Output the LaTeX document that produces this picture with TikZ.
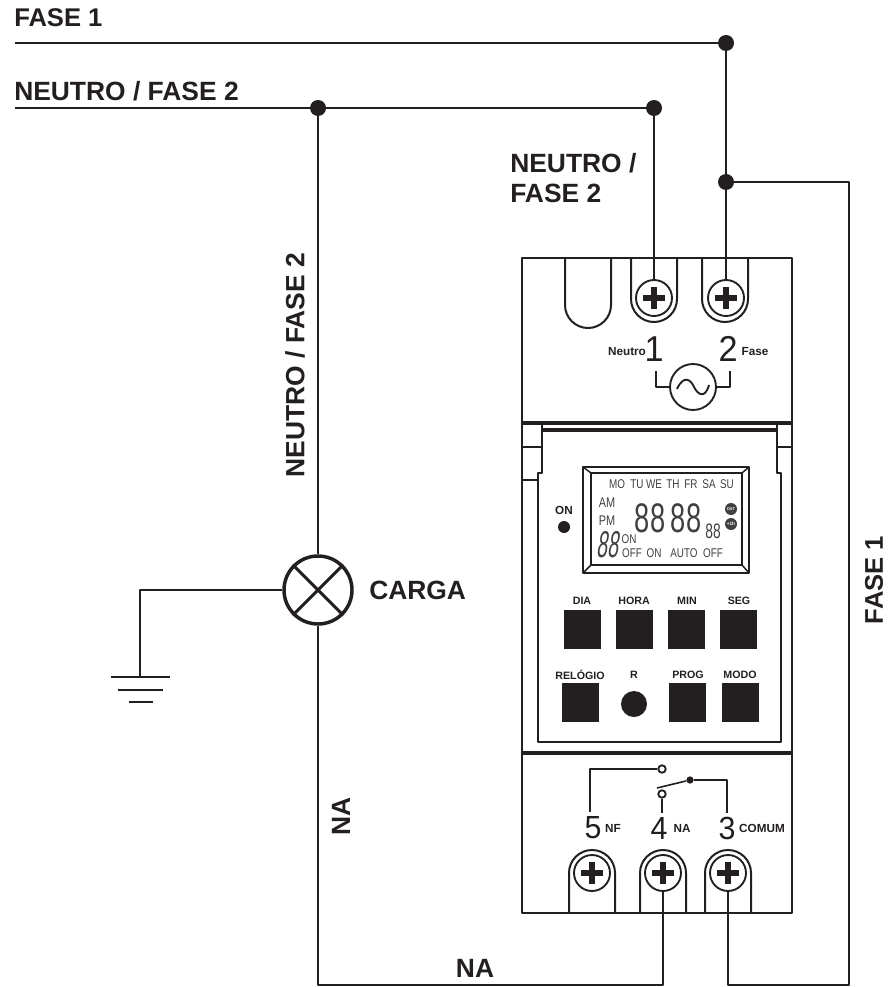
\documentclass[tikz,border=0pt]{standalone}
\usepackage{fontspec}
\setmainfont{Liberation Sans}
\newfontfamily\lcdfont[FakeStretch=0.78]{Liberation Sans}
\newfontfamily\lcddigit[FakeStretch=0.66]{Liberation Sans}
\newfontfamily\segdigit[FakeStretch=0.52,FakeSlant=0.16]{Liberation Sans}
\newfontfamily\lightdigit[FakeStretch=0.95]{Liberation Sans}
\definecolor{inkblack}{HTML}{231F20}
\definecolor{lcdgrey}{HTML}{404040}
\tikzset{
	wire/.style={inkblack, line width=1.5pt},
	outline/.style={inkblack, line width=1.9pt},
	joint/.style={circle, fill=inkblack, inner sep=0pt, minimum size=12pt},
	screwhead/.style={circle, draw=inkblack, line width=1.4pt, fill=white, inner sep=0pt, minimum size=27pt},
	bigtext/.style={font=\bfseries\fontsize{19.8}{22}\selectfont, text=inkblack, inner sep=0pt},
	fasetext/.style={font=\bfseries\fontsize{19.2}{22}\selectfont, text=inkblack, inner sep=0pt},
	smalltext/.style={font=\bfseries\fontsize{8}{9}\selectfont, text=inkblack, inner sep=0pt},
	termdigit/.style={font=\lightdigit\fontsize{27}{27}\selectfont, text=inkblack, inner sep=0pt},
	relaydigit/.style={font=\lightdigit\fontsize{24}{24}\selectfont, text=inkblack, inner sep=0pt},
	lcdtext/.style={font=\lcdfont\fontsize{9.5}{10}\selectfont, text=lcdgrey, inner sep=0pt},
	lcdbig/.style={font=\lcddigit\fontsize{31}{31}\selectfont, text=lcdgrey, inner sep=0pt},
	pushbutton/.style={fill=inkblack}
}
\newcommand{\plusmark}[1]{
	\draw[inkblack, line width=3.9pt] ([xshift=-8.2pt]#1.center) -- ([xshift=8.2pt]#1.center);
	\draw[inkblack, line width=3.9pt] ([yshift=-8.2pt]#1.center) -- ([yshift=8.2pt]#1.center);
}
\begin{document}
\begin{tikzpicture}[
		x=0.75pt,
		y=-0.75pt,
		line join=round
	]
	\useasboundingbox (0,0) rectangle (888,987);

	% Device body
	\draw[outline] (522,258) rectangle (792,913);
	\draw[outline, line width=2.4pt] (522,423) -- (792,423);
	\draw[outline, line width=2.4pt] (542,430) -- (776,430);
	\draw[outline] (542,423) -- (542,473) -- (538,473) -- (538,742) -- (781,742) -- (781,473) -- (777,473) -- (777,423);
	\draw[outline] (522,447) -- (542,447);
	\draw[outline] (522,480) -- (538,480);
	\draw[outline] (777,447) -- (792,447);
	\draw[outline, line width=2.4pt] (522,753) -- (792,753);

	% Top slots
	\draw[outline, line width=1.5pt] (565,258) -- (565,305) arc[start angle=180, end angle=0, radius=23] -- (611,258);
	\draw[outline, line width=1.5pt] (631,258) -- (631,299) arc[start angle=180, end angle=0, radius=23] -- (677,258);
	\draw[outline, line width=1.5pt] (702,258) -- (702,299) arc[start angle=180, end angle=0, radius=23] -- (748,258);

	% Bottom hoods
	\draw[outline, line width=1.5pt] (569,913) -- (569,873) arc[start angle=180, end angle=360, radius=23] -- (615,913);
	\draw[outline, line width=1.5pt] (640,913) -- (640,873) arc[start angle=180, end angle=360, radius=23] -- (686,913);
	\draw[outline, line width=1.5pt] (705,913) -- (705,873) arc[start angle=180, end angle=360, radius=23] -- (751,913);

	% Screws
	\node[screwhead] (screwN) at (654,298) {};
	\node[screwhead] (screwF) at (726,298) {};
	\node[screwhead] (screwNF) at (592,873) {};
	\node[screwhead] (screwNA) at (663,873) {};
	\node[screwhead] (screwC) at (728,873) {};
	\plusmark{screwN}
	\plusmark{screwF}
	\plusmark{screwNF}
	\plusmark{screwNA}
	\plusmark{screwC}

	% Supply lines
	\coordinate (f1start) at (15,43);
	\coordinate (n1start) at (15,108);
	\node[joint] (f1top) at (726,43) {};
	\node[joint] (f1mid) at (726,182) {};
	\node[joint] (n1lamp) at (318,108) {};
	\node[joint] (n1top) at (654,108) {};
	\draw[wire] (f1start) -- (f1top);
	\draw[wire] (f1top) -- (f1mid);
	\draw[wire] (f1mid) -- (screwF);
	\draw[wire] (n1start) -- (n1lamp);
	\draw[wire] (n1lamp) -- (n1top);
	\draw[wire] (n1top) -- (screwN);

	% Lamp and earth
	\node[circle, draw=inkblack, line width=2.6pt, inner sep=0pt, minimum size=51pt] (lamp) at (318,590) {};
	\draw[inkblack, line width=2.2pt] (lamp.45) -- (lamp.225);
	\draw[inkblack, line width=2.2pt] (lamp.135) -- (lamp.315);
	\coordinate (earth) at (140,677);
	\draw[wire] (n1lamp) -- (lamp);
	\draw[wire] (lamp) -| (earth);
	\draw[wire] (111,677) -- (170,677);
	\draw[wire] (118,690) -- (163,690);
	\draw[wire] (129,702) -- (153,702);

	% Return wires
	\draw[wire] (lamp) |- (663,985) -- (screwNA);
	\draw[wire] (f1mid) -| (849,985) -| (screwC);

	% Labels on wires
	\node[fasetext, anchor=west] (lblfase) at (14,18) {FASE 1};
	\node[bigtext, anchor=west] (lblneutro) at (14,91) {NEUTRO / FASE 2};
	\node[bigtext, anchor=west] (lblneutroa) at (510,163) {NEUTRO /};
	\node[bigtext, anchor=west] (lblneutrob) at (510,193) {FASE 2};
	\node[bigtext, rotate=90] (lblneutroc) at (295,365) {NEUTRO / FASE 2};
	\node[fasetext, rotate=90] (lblfaseb) at (874,580) {FASE 1};
	\node[bigtext, rotate=90] (lblnaa) at (341,816) {NA};
	\node[bigtext] (lblnab) at (475,968) {NA};
	\node[bigtext, anchor=west] (lblcarga) at (369,590) {CARGA};

	% Supply symbol
	\node[termdigit] (dig1) at (654,349) {1};
	\node[termdigit] (dig2) at (728,349) {2};
	\node[smalltext, font=\bfseries\fontsize{8.8}{9}\selectfont] (lblneu) at (627,352) {Neutro};
	\node[smalltext, font=\bfseries\fontsize{8.8}{9}\selectfont] (lblfas) at (755,352) {Fase};
	\node[circle, draw=inkblack, line width=1.4pt, inner sep=0pt, minimum size=34.5pt] (acsrc) at (693,387) {};
	\draw[wire, line width=1.3pt] (acsrc.west) -- (656,387) -- (656,371);
	\draw[wire, line width=1.3pt] (acsrc.east) -- (730,387) -- (730,371);
	\draw[inkblack, line width=1.4pt] (677,389) .. controls (684,374) and (691,380) .. (694,387) .. controls (698,395) and (705,399) .. (709,385);

	% Display
	\draw[outline] (583,467) rectangle (749,573);
	\draw[outline, line width=1.4pt] (591,473) rectangle (742,565);
	\draw[outline, line width=1.1pt] (583,467) -- (591,473);
	\draw[outline, line width=1.1pt] (749,467) -- (742,473);
	\draw[outline, line width=1.1pt] (583,573) -- (591,565);
	\draw[outline, line width=1.1pt] (749,573) -- (742,565);
	\foreach \name/\xpos in {MO/617,TU/637,WE/654,TH/673,FR/691,SA/709,SU/727}
		\node[lcdtext] (lcd\name) at (\xpos,484) {\name};
	\node[lcdtext, font=\lcdfont\fontsize{10.5}{11}\selectfont] (lcdam) at (607,503) {AM};
	\node[lcdtext, font=\lcdfont\fontsize{10.5}{11}\selectfont] (lcdpm) at (607,521) {PM};
	\node[lcdbig] (lcdhh) at (650,518) {88};
	\node[lcdbig] (lcdmm) at (686,518) {88};
	\node[lcdbig, font=\lcddigit\fontsize{15.7}{16}\selectfont] (lcdss) at (713,531) {88};
	\node[lcdbig, font=\segdigit\fontsize{28}{28}\selectfont] (lcdday) at (607,545) {88};
	\node[lcdtext] (lcdon) at (629,539) {ON};
	\node[lcdtext] (lcdoff) at (632,553) {OFF};
	\node[lcdtext] (lcdonb) at (654,553) {ON};
	\node[lcdtext] (lcdauto) at (684,553) {AUTO};
	\node[lcdtext] (lcdoffb) at (713,553) {OFF};
	\node[circle, fill=lcdgrey, inner sep=0pt, minimum size=9pt, text=white, font=\bfseries\fontsize{3}{3}\selectfont] (lcddst) at (731,509) {DST};
	\node[circle, fill=lcdgrey, inner sep=0pt, minimum size=9pt, text=white, font=\bfseries\fontsize{3.5}{3}\selectfont] (lcdplus) at (731,524) {+1h};

	% ON lamp
	\node[smalltext, font=\bfseries\fontsize{8.8}{9}\selectfont] (lblon) at (564,510) {ON};
	\node[circle, fill=inkblack, inner sep=0pt, minimum size=9pt] (ondot) at (564,527) {};

	% Buttons, first row
	\foreach \name/\xa/\xl in {DIA/564/582,HORA/616/634,MIN/668/687,SEG/720/739} {
		\fill[pushbutton] (\xa,610) rectangle ++(37,39);
		\node[smalltext] (lbl\name) at (\xl,601) {\name};
	}
	% Buttons, second row
	\foreach \name/\xa/\xl in {PROG/669/688,MODO/722/740} {
		\fill[pushbutton] (\xa,683) rectangle ++(37,39);
		\node[smalltext] (lbl\name) at (\xl,675) {\name};
	}
	\fill[pushbutton] (562,683) rectangle ++(37,39);
	\node[smalltext] (lblrel) at (580,675) {RELÓGIO};
	\node[smalltext] (lblr) at (634,675) {R};
	\node[circle, fill=inkblack, inner sep=0pt, minimum size=19.5pt] (resetbtn) at (634,704) {};

	% Relay contacts
	\node[circle, draw=inkblack, line width=1.4pt, fill=white, inner sep=0pt, minimum size=5.6pt] (contactNF) at (662,769) {};
	\node[circle, draw=inkblack, line width=1.4pt, fill=white, inner sep=0pt, minimum size=5.6pt] (contactNA) at (662,794) {};
	\node[circle, fill=inkblack, inner sep=0pt, minimum size=5.5pt] (pivot) at (690,780) {};
	\draw[inkblack, line width=1.7pt] (590,812) -- (590,769) -- (contactNF);
	\draw[inkblack, line width=1.7pt] (contactNA) -- (662,813);
	\draw[inkblack, line width=1.2pt] (657,788) -- (pivot);
	\draw[inkblack, line width=1.7pt] (pivot) -- (727,780) -- (727,813);

	% Terminal numbers
	\node[relaydigit] (dig5) at (593,828) {5};
	\node[relaydigit] (dig4) at (659,828) {4};
	\node[relaydigit] (dig3) at (727,828) {3};
	\node[smalltext, font=\bfseries\fontsize{8.8}{9}\selectfont] (lblnf) at (613,828) {NF};
	\node[smalltext, font=\bfseries\fontsize{8.8}{9}\selectfont] (lblna) at (682,828) {NA};
	\node[smalltext, font=\bfseries\fontsize{8.8}{9}\selectfont] (lblcomum) at (762,828) {COMUM};
\end{tikzpicture}
\end{document}
